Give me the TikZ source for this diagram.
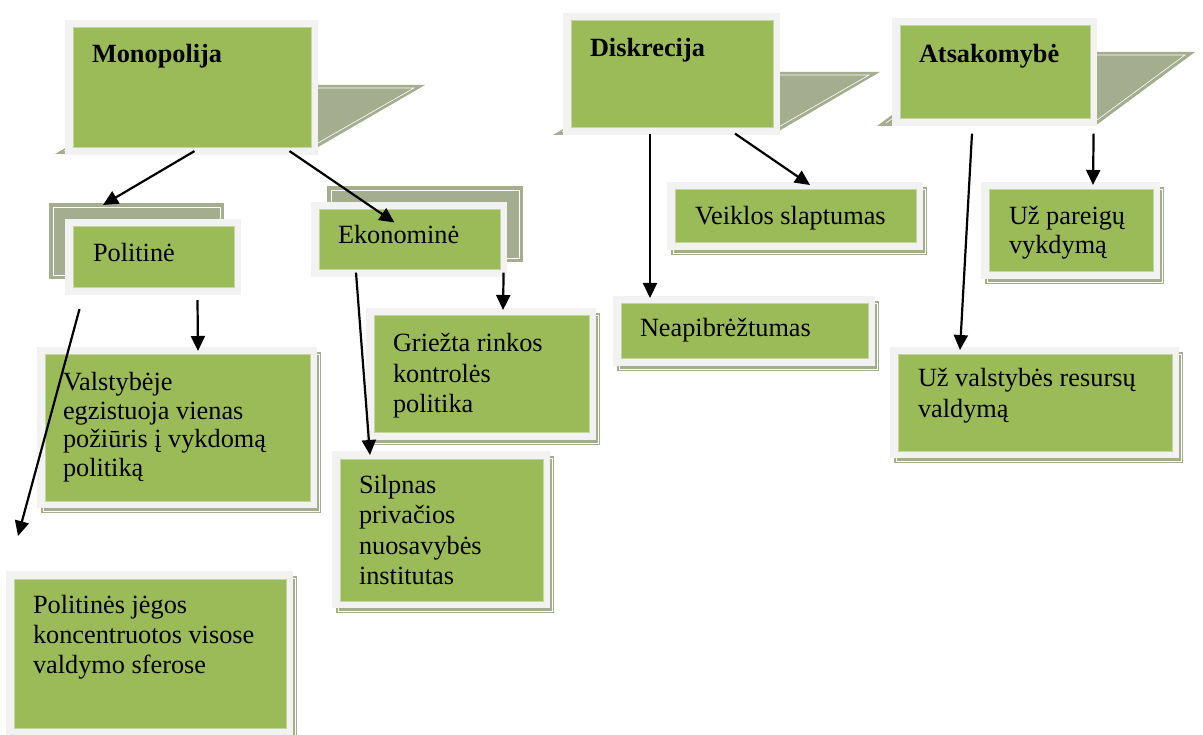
\documentclass[tikz,border=0pt]{standalone}
\usepackage{fontspec}
\setmainfont{Liberation Serif}
\usetikzlibrary{arrows.meta,calc}

\definecolor{leaf}{HTML}{9BBB59}
\definecolor{rim}{HTML}{F2F2F2}
\definecolor{sage}{HTML}{A5AD8F}
\definecolor{leafline}{HTML}{C3D69B}

\tikzset{
  cell/.style={fill=leaf, draw=leafline, line width=0.6pt, inner sep=0pt, anchor=north west},
  txt/.style={anchor=base west, inner sep=0pt, outer sep=0pt},
  link/.style={line width=2.2pt, -{Triangle[length=15pt,width=14pt]}},
  backbox/.style={fill=sage, inner sep=0pt, anchor=north west},
  tabshape/.style={fill=sage},
  tabline/.style={draw=white, line width=0.6pt},
}

% text block: first line's baseline is the node's base
\newcommand\lines[2][30.3pt]{\parbox[t]{330pt}{\raggedright\fontsize{26.3pt}{#1}\selectfont #2}}

% framed green panel: name, outer corners x1 y1 x2 y2
\newcommand\flatpanel[5]{%
  \fill[rim] (#2,#3) rectangle (#4,#5);
  \node[cell, minimum width={#4-#2-15}, minimum height={#5-#3-15}] (#1) at (#2+7.5,#3+7.5) {};}
% same panel with a small drop shadow
\newcommand\panel[5]{%
  \fill[sage] (#2+4,#3+5) rectangle (#4+4,#5+5);
  \draw[white, line width=0.6pt] (#2+6,#3+7) rectangle (#4+2,#5+3);
  \flatpanel{#1}{#2}{#3}{#4}{#5}}

\begin{document}
\begin{tikzpicture}[x=1pt,y=-1pt]
\useasboundingbox (0,0) rectangle (1203,735);
\fill[white] (0,0) rectangle (1203,735);

% slanted tabs behind the three headings
\fill[tabshape] (55,154) -- (174,85) -- (425,85) -- (306,154) -- cycle;
\draw[tabline] (64,151) -- (178,88) -- (414,88) -- (304,151);
\fill[tabshape] (553,135) -- (661,72) -- (880,72) -- (772,135) -- cycle;
\draw[tabline] (562,132) -- (665,75) -- (869,75) -- (770,132);
\fill[tabshape] (877,126) -- (977,52) -- (1195,52) -- (1095,126) -- cycle;
\draw[tabline] (886,123) -- (981,55) -- (1185,55) -- (1093,123);

% headings
\flatpanel{mono}{65}{20}{318}{155}
\flatpanel{disk}{563}{13}{780}{135}
\flatpanel{atsa}{892}{18}{1097}{126}
\node[txt] (mono-t) at (92,63) {\lines{\textbf{Monopolija}}};
\node[txt] (disk-t) at (590,57) {\lines{\textbf{Diskrecija}}};
\node[txt] (atsa-t) at (919,63) {\lines{\textbf{Atsakomybė}}};

% second level with offset back plates
\node[backbox, minimum width=175, minimum height=76] (polback) at (49,203) {};
\draw[white, line width=0.6pt] ($(polback.north west)+(4,4)$) rectangle ($(polback.south east)+(-4,-4)$);
\flatpanel{pol}{65}{219}{241}{295}
\node[txt] (pol-t) at (93,262) {\lines{Politinė}};

\node[backbox, minimum width=196, minimum height=76] (ekoback) at (327,186) {};
\draw[white, line width=0.6pt] ($(ekoback.north west)+(4,4)$) rectangle ($(ekoback.south east)+(-4,-4)$);
\flatpanel{eko}{311}{202}{507}{277}
\node[txt] (eko-t) at (338,244) {\lines{Ekonominė}};

% leaf panels
\panel{val}{37}{347}{317}{508}
\node[txt] (val-t) at (63,391) {\lines[28.5pt]{Valstybėje\\egzistuoja vienas\\požiūris į vykdomą\\politiką}};

\panel{pje}{6}{571}{293}{735}
\node[txt] (pje-t) at (33,613) {\lines{Politinės jėgos\\koncentruotos visose\\valdymo sferose}};

\panel{grie}{366}{308}{596}{440}
\node[txt] (grie-t) at (393,352) {\lines{Griežta rinkos\\kontrolės\\politika}};

\panel{silp}{332}{451}{550}{608}
\node[txt] (silp-t) at (359,493) {\lines[30.6pt]{Silpnas\\privačios\\nuosavybės\\institutas}};

\panel{veik}{667}{182}{923}{250}
\node[txt] (veik-t) at (695,225) {\lines{Veiklos slaptumas}};

\panel{neap}{613}{296}{875}{366}
\node[txt] (neap-t) at (640,337) {\lines{Neapibrėžtumas}};

\panel{pare}{981}{182}{1160}{279}
\node[txt] (pare-t) at (1009,225) {\lines[28.5pt]{Už pareigų\\vykdymą}};

\panel{resu}{890}{347}{1179}{458}
\node[txt] (resu-t) at (918,387) {\lines[31pt]{Už valstybės resursų\\valdymą}};

% connectors
\draw[link] ($(mono.south west)+(122,3)$) -- ($(polback.north west)+(54,2)$);
\draw[link] ($(mono.south west)+(217,3)$) -- ($(eko.north west)+(76,13)$);
\draw[link] ($(pol.south west)+(125,12)$) -- ($(val.north west)+(153.5,-3.5)$);
\draw[link] ($(pol.south west)+(7,21)$) -- ($(pje.north west)+(4.5,-42.5)$);
\draw[link] ($(eko.south east)+(3.5,2.5)$) -- ($(grie.north west)+(129.5,-5.5)$);
\draw[link] ($(eko.south west)+(37.5,2.5)$) -- ($(silp.north west)+(30.5,-3.5)$);
\draw[link] ($(disk.south west)+(79.5,5.5)$) -- ($(neap.north west)+(29.5,-5.5)$);
\draw[link] ($(disk.south west)+(164.5,5.5)$) -- ($(veik.north west)+(135.5,-4.5)$);
\draw[link] ($(atsa.south west)+(72.5,14.5)$) -- ($(resu.north west)+(62.5,-4.5)$);
\draw[link] ($(atsa.south east)+(3.5,14.5)$) -- ($(pare.north west)+(104.5,-4.5)$);
\end{tikzpicture}
\end{document}
